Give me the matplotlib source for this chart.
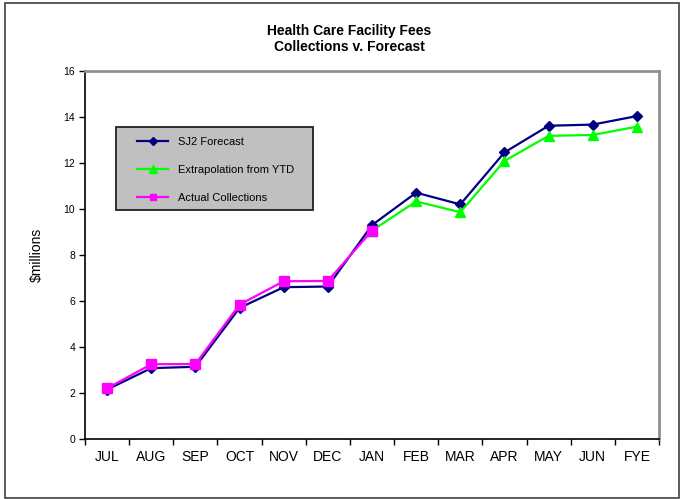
import matplotlib.pyplot as plt
from matplotlib.patches import Rectangle

plt.rcParams["font.family"] = ["Liberation Sans", "DejaVu Sans"]

months = ["JUL", "AUG", "SEP", "OCT", "NOV", "DEC", "JAN",
          "FEB", "MAR", "APR", "MAY", "JUN", "FYE"]

# $ millions, cumulative
sj2_forecast = [2.15, 3.08, 3.14, 5.7, 6.6, 6.63, 9.3,
                10.71, 10.2, 12.46, 13.62, 13.67, 14.04]
extrapolation = [None, None, None, None, None, None, 9.06,
                 10.33, 9.86, 12.09, 13.18, 13.22, 13.58]
actual = [2.2, 3.25, 3.26, 5.84, 6.86, 6.87, 9.06]

W, H = 681, 499
fig = plt.figure(figsize=(W / 100, H / 100), dpi=100)

# outer chart border
fig.patches.append(Rectangle((5 / W, 1.5 / H), 674 / W, 495 / H,
                             transform=fig.transFigure, fill=False,
                             edgecolor="#404040", linewidth=1.2))

ax = fig.add_axes([85 / W, (H - 439) / H, 574 / W, 368 / H])

x = list(range(len(months)))
ext_x = [i for i, v in enumerate(extrapolation) if v is not None]
ext_y = [v for v in extrapolation if v is not None]

ax.plot(x, sj2_forecast, color="#000080", linewidth=1.6, marker="D",
        markersize=5.5, label="SJ2 Forecast", zorder=3)
ax.plot(ext_x, ext_y, color="#00FF00", linewidth=1.6, marker="^",
        markersize=7.5, label="Extrapolation from YTD", zorder=4)
ax.plot(x[:len(actual)], actual, color="#FF00FF", linewidth=1.6,
        marker="s", markersize=7, label="Actual Collections", zorder=5)

ax.set_xlim(-0.5, len(months) - 0.5)
ax.set_ylim(0, 16)
ax.set_yticks(range(0, 17, 2))
ax.tick_params(axis="y", labelsize=7.5, direction="out", length=4,
               width=1, pad=3)

# category labels centered, ticks on the category boundaries
ax.set_xticks(x)
ax.set_xticklabels(months, fontsize=10)
ax.tick_params(axis="x", which="major", length=0, pad=8)
ax.set_xticks([i - 0.5 for i in range(len(months) + 1)], minor=True)
ax.tick_params(axis="x", which="minor", direction="out", length=4, width=1)

for side in ("left", "bottom"):
    ax.spines[side].set_color("black")
    ax.spines[side].set_linewidth(1.2)
for side in ("top", "right"):
    ax.spines[side].set_color("#909090")
    ax.spines[side].set_linewidth(2)

ax.set_ylabel("$millions", fontsize=10, labelpad=14)

fig.text(349 / W, 1 - 39 / H, "Health Care Facility Fees\nCollections v. Forecast",
         ha="center", va="center", fontsize=10, fontweight="bold",
         linespacing=1.15)

# legend box drawn separately so the entries can sit inset from the frame
px_w, px_h = 574, 368
ax.add_patch(Rectangle((31 / px_w, (439 - 210) / px_h), 197 / px_w, 83 / px_h,
                       transform=ax.transAxes, facecolor="#C0C0C0",
                       edgecolor="#202020", linewidth=1.3, zorder=6))
leg = ax.legend(loc="upper left",
                bbox_to_anchor=(52 / px_w, (439 - 137) / px_h),
                borderaxespad=0, borderpad=0, fontsize=8, frameon=False,
                handlelength=2.8, handletextpad=0.9, labelspacing=1.6,
                markerscale=0.7)
leg.set_zorder(7)

fig.savefig("out.png", dpi=100)
